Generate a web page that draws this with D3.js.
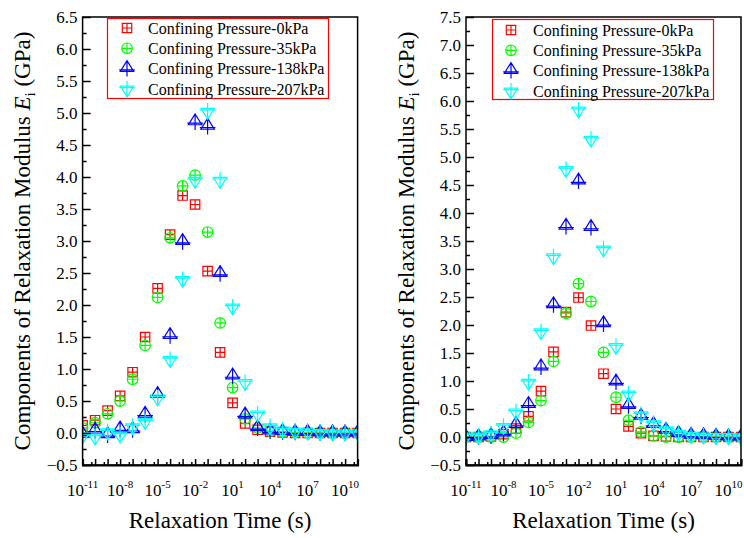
<!DOCTYPE html>
<html>
<head>
<meta charset="utf-8">
<script src="https://cdn.jsdelivr.net/npm/d3@7"></script>
</head>
<body style="margin:0; background:#fff">
<div id="chart"></div>
<script>
const width = 744, height = 538;
const serif = '"Liberation Serif"';

// relaxation times: one point per decade, 10^-11 ... 10^11
const exponents = d3.range(-11, 12);
const labelExponents = [-11, -8, -5, -2, 1, 4, 7, 10];

const seriesNames = ['Confining Pressure-0kPa', 'Confining Pressure-35kPa',
                     'Confining Pressure-138kPa', 'Confining Pressure-207kPa'];
const seriesColors = ['#ff0000', '#00ff00', '#0000ff', '#00ffff'];
const seriesSymbols = ['square', 'circle', 'up', 'down'];

// left panel, E_i in GPa
const left0 = [0.12, 0.2, 0.35, 0.58, 0.95, 1.5, 2.26, 3.1, 3.71, 3.57, 2.53, 1.26, 0.47, 0.15, 0.05, 0.02, 0.01, 0, 0, 0, 0, 0, 0];
const left35 = [0.08, 0.16, 0.3, 0.5, 0.84, 1.37, 2.12, 3.05, 3.86, 4.03, 3.14, 1.72, 0.71, 0.22, 0.08, 0.03, 0.02, 0.01, 0, 0, 0, 0, 0];
const left138 = [-0.02, 0.04, -0.03, 0.06, 0.05, 0.29, 0.6, 1.52, 2.99, 4.86, 4.79, 2.49, 0.89, 0.28, 0.08, 0.03, 0.02, 0.01, 0.01, 0, 0, 0, 0];
const left207 = [-0.04, -0.06, 0.02, -0.03, 0.1, 0.18, 0.55, 1.15, 2.4, 3.95, 5.03, 3.95, 1.97, 0.79, 0.3, 0.1, 0.05, 0.03, 0.02, 0.01, 0, 0, 0];

// right panel
const right0 = [0, 0, 0.01, 0.05, 0.15, 0.37, 0.82, 1.52, 2.23, 2.49, 1.99, 1.13, 0.5, 0.19, 0.07, 0.02, 0.01, 0, 0, 0, 0, 0, 0];
const right35 = [0, 0, 0, 0, 0.07, 0.26, 0.65, 1.35, 2.21, 2.74, 2.42, 1.51, 0.71, 0.3, 0.09, 0.02, 0, 0, 0, 0, 0, 0, 0];
const right138 = [-0.01, 0, 0.02, 0.07, 0.22, 0.58, 1.25, 2.36, 3.76, 4.57, 3.74, 2.02, 0.98, 0.56, 0.37, 0.22, 0.12, 0.06, 0.03, 0.02, 0.01, 0, 0];
const right207 = [0.02, 0.02, 0.06, 0.19, 0.45, 0.98, 1.88, 3.22, 4.78, 5.84, 5.32, 3.36, 1.62, 0.77, 0.4, 0.24, 0.13, 0.07, 0.03, 0.02, 0.01, 0.01, 0];

const leftYMax = 6.5, rightYMax = 7.5;

const svg = d3.select('#chart').append('svg')
  .attr('width', width)
  .attr('height', height)
  .style('display', 'block')
  .style('font-family', serif);

drawPanel({ id: 'l', x0: 82.6, x1: 357.6, yMax: leftYMax,
            series: [left0, left35, left138, left207],
            legend: { x: 107.5, y: 18.5, w: 221, h: 80, sx: 127, tx: 148, ty: 28 },
            titleX: 22 });

drawPanel({ id: 'r', x0: 466, x1: 741, yMax: rightYMax,
            series: [right0, right35, right138, right207],
            legend: { x: 492.5, y: 19.5, w: 221, h: 80, sx: 511, tx: 533, ty: 30 },
            titleX: 406 });

function drawPanel(p) {
  const top = 17, bottom = 465;

  const x = d3.scaleLog().domain([1e-11, 1e11]).range([p.x0, p.x1]);
  const y = d3.scaleLinear().domain([-0.5, p.yMax]).range([bottom, top]);

  const g = svg.append('g');

  g.append('clipPath').attr('id', 'clip-' + p.id)
    .append('rect')
    .attr('x', p.x0).attr('y', top)
    .attr('width', p.x1 - p.x0).attr('height', bottom - top);

  // points
  const pts = g.append('g').attr('clip-path', `url(#clip-${p.id})`);
  p.series.forEach((vals, si) => {
    pts.append('g')
      .selectAll('path')
      .data(vals.map((v, i) => ({ t: Math.pow(10, exponents[i]), v: v })))
      .join('path')
      .attr('transform', d => `translate(${x(d.t)},${y(d.v)})`)
      .attr('d', symbolPath(seriesSymbols[si]))
      .attr('fill', 'none')
      .attr('stroke', seriesColors[si])
      .attr('stroke-width', 1.2);
  });

  // frame
  g.append('rect')
    .attr('x', p.x0).attr('y', top)
    .attr('width', p.x1 - p.x0).attr('height', bottom - top)
    .attr('fill', 'none').attr('stroke', 'black').attr('stroke-width', 1.5);

  // y axis: major every 0.5, minor in between
  const yMajor = d3.range(-0.5, p.yMax + 0.01, 0.5);
  const yMinor = d3.range(-0.25, p.yMax, 0.5);

  const yAxis = g.append('g')
    .attr('transform', `translate(${p.x0},0)`)
    .call(d3.axisLeft(y).tickValues(yMajor).tickSize(-8).tickPadding(5)
      .tickFormat(d3.format('.1f')));
  yAxis.attr('font-size', null).attr('font-family', null);
  yAxis.select('.domain').remove();
  yAxis.selectAll('line').attr('stroke-width', 1.5);
  yAxis.selectAll('text').attr('fill', 'black')
    .style('font-family', serif).style('font-size', '17px');

  const yAxisMinor = g.append('g')
    .attr('transform', `translate(${p.x0},0)`)
    .call(d3.axisLeft(y).tickValues(yMinor).tickSize(-4).tickFormat(''));
  yAxisMinor.select('.domain').remove();
  yAxisMinor.selectAll('line').attr('stroke-width', 1.5);

  // x axis: tick every decade, small tick at 5x
  const xMajor = d3.range(-11, 12).map(e => Math.pow(10, e));
  const xMinor = d3.range(-11, 11).map(e => 5 * Math.pow(10, e));

  const xAxis = g.append('g')
    .attr('transform', `translate(0,${bottom})`)
    .call(d3.axisBottom(x).tickValues(xMajor).tickSize(-6).tickFormat(''));
  xAxis.select('.domain').attr('stroke-width', 2);
  xAxis.selectAll('line').attr('stroke-width', 1.5);

  const xAxisMinor = g.append('g')
    .attr('transform', `translate(0,${bottom})`)
    .call(d3.axisBottom(x).tickValues(xMinor).tickSize(-3).tickFormat(''));
  xAxisMinor.select('.domain').remove();
  xAxisMinor.selectAll('line').attr('stroke-width', 1.5);

  // x tick labels 10^n
  const lab = g.append('g').selectAll('text')
    .data(labelExponents)
    .join('text')
    .attr('x', d => x(Math.pow(10, d)))
    .attr('y', bottom + 31)
    .attr('text-anchor', 'middle')
    .style('font-family', serif)
    .style('font-size', '17px');
  lab.append('tspan').text('10');
  lab.append('tspan').attr('dy', -8).style('font-size', '11px').text(d => d);

  // axis titles
  g.append('text')
    .attr('x', (p.x0 + p.x1) / 2)
    .attr('y', 528)
    .attr('text-anchor', 'middle')
    .style('font-family', serif)
    .style('font-size', '23px')
    .text('Relaxation Time (s)');

  const yt = g.append('text')
    .attr('transform', `translate(${p.titleX},${(top + bottom) / 2}) rotate(-90)`)
    .attr('text-anchor', 'middle')
    .attr('dy', '0.35em')
    .style('font-family', serif)
    .style('font-size', '23px');
  yt.append('tspan').text('Components of Relaxation Modulus ');
  yt.append('tspan').style('font-style', 'italic').text('E');
  yt.append('tspan').style('font-size', '15px').attr('dy', 5).text('i');
  yt.append('tspan').attr('dy', -5).text(' (GPa)');

  // legend
  const L = p.legend;
  g.append('rect')
    .attr('x', L.x).attr('y', L.y).attr('width', L.w).attr('height', L.h)
    .attr('fill', 'white').attr('stroke', '#ff0000').attr('stroke-width', 1.2);

  const items = g.append('g').selectAll('g')
    .data(seriesNames)
    .join('g')
    .attr('transform', (d, i) => `translate(0,${L.ty + i * 20.3})`);
  items.append('path')
    .attr('transform', `translate(${L.sx},0)`)
    .attr('d', (d, i) => symbolPath(seriesSymbols[i]))
    .attr('fill', 'none')
    .attr('stroke', (d, i) => seriesColors[i])
    .attr('stroke-width', 1.2);
  items.append('text')
    .attr('x', L.tx)
    .attr('dy', '0.35em')
    .style('font-family', serif)
    .style('font-size', '16px')
    .text(d => d);
}

// Origin-style hollow symbols with a plus inside
function symbolPath(kind) {
  const p = d3.path();
  if (kind === 'square') {
    const h = 4.7;
    p.rect(-h, -h, 2 * h, 2 * h);
    p.moveTo(-h, 0); p.lineTo(h, 0);
    p.moveTo(0, -h); p.lineTo(0, h);
  } else if (kind === 'circle') {
    const r = 5.3;
    p.moveTo(r, 0); p.arc(0, 0, r, 0, 2 * Math.PI);
    p.moveTo(-r, 0); p.lineTo(r, 0);
    p.moveTo(0, -r); p.lineTo(0, r);
  } else {
    const s = kind === 'up' ? 1 : -1;
    p.moveTo(0, -8 * s); p.lineTo(6.7, 2.8 * s); p.lineTo(-6.7, 2.8 * s); p.closePath();
    p.moveTo(-7.8, 1.2 * s); p.lineTo(7.8, 1.2 * s);
    p.moveTo(0, -8 * s); p.lineTo(0, 8 * s);
  }
  return p.toString();
}
</script>
</body>
</html>
